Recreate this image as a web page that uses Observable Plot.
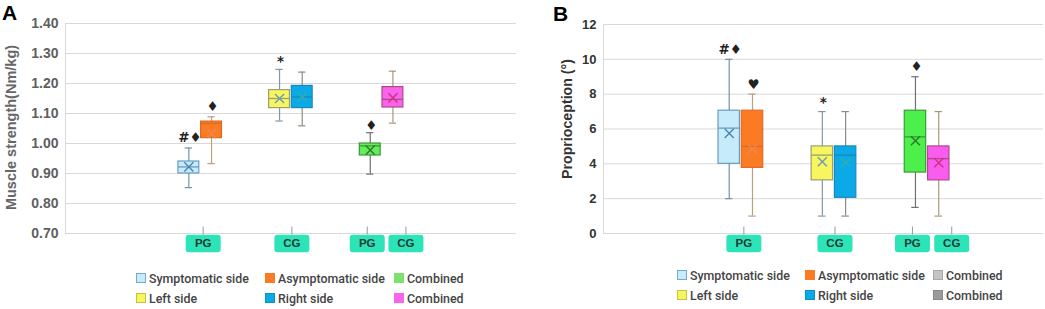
<!DOCTYPE html>
<html>
<head>
<meta charset="utf-8">
<script src="https://cdn.jsdelivr.net/npm/d3@7"></script>
<script src="https://cdn.jsdelivr.net/npm/@observablehq/plot@0.6"></script>
<style>
  body { margin: 0; background: #fff; width: 1045px; height: 309px; overflow: hidden; position: relative; font-family: "Liberation Sans", Arial, sans-serif; }
  .panel { position: absolute; top: 0; }
  .letter { position: absolute; font: bold 21px "Liberation Sans", Arial, sans-serif; color: #000; line-height: 1; }
  .legend { position: absolute; font: 500 12.4px Roboto, "Noto Sans", sans-serif; color: #444; }
  .item { position: absolute; display: flex; align-items: center; white-space: nowrap; height: 14px; }
  .sw { width: 8px; height: 8px; border: 1px solid; margin-right: 3px; }
</style>
</head>
<body>
<div id="panelA" class="panel" style="left:0px"></div>
<div id="panelB" class="panel" style="left:520px"></div>
<div class="letter" style="left:2px;top:2px">A</div>
<div class="letter" style="left:553px;top:3px">B</div>
<div id="legendA" class="legend" style="left:136px;top:271px"></div>
<div id="legendB" class="legend" style="left:677px;top:268px"></div>
<script>
// ---- categories (box order) and grouping ----
const boxKeys = ["Symptomatic side", "Asymptomatic side", "Left side", "Right side", "Combined PG", "Combined CG"];
const boxGroups = [["Symptomatic side", "Asymptomatic side"], ["Left side", "Right side"], ["Combined PG"], ["Combined CG"]];
const groupLabels = ["PG", "CG", "PG", "CG"];

// ---- Panel A: muscle strength (Nm/kg) ----
const strengthMin    = [0.853, 0.933, 1.075, 1.059, 0.898, 1.068];
const strengthQ1     = [0.900, 1.018, 1.118, 1.118, 0.960, 1.120];
const strengthMedian = [0.922, 1.067, 1.150, 1.155, 0.992, 1.147];
const strengthQ3     = [0.940, 1.073, 1.178, 1.192, 1.000, 1.188];
const strengthMax    = [0.985, 1.089, 1.247, 1.238, 1.036, 1.241];
const strengthMean   = [0.922, 1.033, 1.150, 1.155, 0.978, 1.152];
const strengthNotes  = ["#♦", "♦", "*", "", "♦", ""];
const strengthNoteAt = [1.020, 1.122, 1.272, null, 1.059, null];
const strengthTicks  = [0.70, 0.80, 0.90, 1.00, 1.10, 1.20, 1.30, 1.40];

// ---- Panel B: proprioception (°) ----
const proMin    = [2, 1, 1, 1, 1.5, 1];
const proQ1     = [4, 3.77, 3.05, 2.05, 3.5, 3.05];
const proMedian = [6.05, 5.0, 4.5, 4.5, 5.55, 4.3];
const proQ3     = [7.05, 7.05, 5.0, 5.0, 7.05, 5.0];
const proMax    = [10, 8, 7, 7, 9, 7];
const proMean   = [5.75, 4.87, 4.12, 4.08, 5.33, 4.06];
const proNotes  = ["#♦", "♥", "*", "", "♦", ""];
const proNoteAt = [10.55, 8.55, 7.5, null, 9.58, null];
const proTicks  = [0, 2, 4, 6, 8, 10, 12];

// ---- legends ----
const legendLabelsA = ["Symptomatic side", "Asymptomatic side", "Combined", "Left side", "Right side", "Combined"];
const legendLabelsB = ["Symptomatic side", "Asymptomatic side", "Combined", "Left side", "Right side", "Combined"];

// ---- styles ----
const fillA   = ["#c6ecfb", "#fa7b24", "#f8f65e", "#0ba9e8", "#66ec5a", "#f865ec"];
const fillB   = ["#c6ecfb", "#fa7b24", "#f8f65e", "#0ba9e8", "#4df04b", "#fa5cf0"];
const strokes = ["#6a9cc0", "#dc6a24", "#9aa070", "#1a88bb", "#3a9a3a", "#b04888"];
const whisk   = ["#7094ab", "#b8a080", "#7f98a8", "#8c8c80", "#707070", "#a89878"];
const meanCol = ["#4c84b0", "#e88a50", "#6a9ab8", "#30b0a8", "#2a7a2a", "#d03080"];
const legendFillA   = ["#c6ecfb", "#fa7b24", "#7ee070", "#f8f65e", "#0ba9e8", "#f865ec"];
const legendStrokeA = ["#7aa8c8", "#fa7b24", "#7ee070", "#c8c040", "#0a90cc", "#f865ec"];
const legendFillB   = ["#c6ecfb", "#fa7b24", "#c4c4c4", "#f8f65e", "#0ba9e8", "#9a9a9a"];
const legendStrokeB = ["#7aa8c8", "#fa7b24", "#a8a8a8", "#c8c040", "#0a90cc", "#888888"];
const labelNudge = [3, 1, -3, 13]; // pixel nudges of the category labels

// slot index: two empty slots between groups of pairs
const slotOf = {};
{
  let s = 0;
  [["Symptomatic side", "Asymptomatic side"], ["Left side", "Right side"], ["Combined PG", "Combined CG"]].forEach((g, gi) => {
    if (gi > 0) s += 2;
    g.forEach(k => { slotOf[k] = s++; });
  });
}
const groupRows = boxGroups.map((g, i) => ({label: groupLabels[i], center: d3.mean(g, k => slotOf[k]), nudge: labelNudge[i]}));

const labelBox = {
  draw(ctx) {
    const w = 17.5, h = 8.8, r = 3;
    ctx.moveTo(-w + r, -h);
    ctx.lineTo(w - r, -h); ctx.arcTo(w, -h, w, -h + r, r);
    ctx.lineTo(w, h - r); ctx.arcTo(w, h, w - r, h, r);
    ctx.lineTo(-w + r, h); ctx.arcTo(-w, h, -w, h - r, r);
    ctx.lineTo(-w, -h + r); ctx.arcTo(-w, -h, -w + r, -h, r);
    ctx.closePath();
  }
};
const tickSym = { draw(ctx) { ctx.moveTo(0, -7); ctx.lineTo(0, 1); } };

function makePanel(o) {
  const rows = boxKeys.map((k, i) => ({
    key: k, slot: slotOf[k],
    min: o.min[i], q1: o.q1[i], med: o.med[i], q3: o.q3[i], max: o.max[i], mean: o.mean[i],
    note: o.notes[i], noteAt: o.noteAt[i],
    fill: o.fill[i], stroke: strokes[i], whisk: whisk[i], meanCol: meanCol[i]
  }));
  const notes = rows.filter(d => d.note);
  const hw = 0.46, cw = 0.16;
  const labelMarks = groupRows.flatMap(g => [
    Plot.dot([g], {x: "center", frameAnchor: "bottom", dx: g.nudge, symbol: tickSym, fill: "none", stroke: "#9a9a9a", strokeWidth: 1}),
    Plot.dot([g], {x: "center", frameAnchor: "bottom", dx: g.nudge, dy: 10, symbol: labelBox, fill: "#2de4b8", stroke: "none"}),
    Plot.text([g], {x: "center", frameAnchor: "bottom", dx: g.nudge, dy: 10, text: "label", fontSize: 11.5, fontWeight: "bold", fill: "#1d3b33", lineAnchor: "middle"})
  ]);
  return Plot.plot({
    width: o.width, height: 258,
    marginLeft: o.marginLeft, marginRight: o.marginRight, marginTop: o.marginTop, marginBottom: 25,
    x: {domain: o.xDomain, axis: null},
    y: {domain: o.yDomain},
    color: {type: "identity"},
    style: {fontFamily: "'Liberation Sans', Arial, sans-serif", background: "transparent", overflow: "visible"},
    marks: [
      Plot.ruleY(o.ticks, {stroke: "#d9d9d9", strokeWidth: 1}),
      Plot.frame({anchor: "left", stroke: "#d9d9d9"}),
      Plot.axisY({ticks: o.ticks, tickSize: 0, tickPadding: 7, tickFormat: o.tickFormat, fontSize: o.tickFont, fontWeight: "bold", fill: o.tickColor, label: null}),
      Plot.text([o.title], {frameAnchor: "left", rotate: -90, dx: o.titleDx, dy: o.titleDy, text: d => d, fontSize: o.titleFont, fontWeight: "bold", fill: o.titleColor, textAnchor: "middle", lineAnchor: "middle"}),
      // whiskers
      Plot.ruleX(rows, {x: "slot", y1: "min", y2: "q1", stroke: "whisk", strokeWidth: 1.2}),
      Plot.ruleX(rows, {x: "slot", y1: "q3", y2: "max", stroke: "whisk", strokeWidth: 1.2}),
      Plot.ruleY(rows, {y: "min", x1: d => d.slot - cw, x2: d => d.slot + cw, stroke: "whisk", strokeWidth: 1.2}),
      Plot.ruleY(rows, {y: "max", x1: d => d.slot - cw, x2: d => d.slot + cw, stroke: "whisk", strokeWidth: 1.2}),
      // boxes
      Plot.rect(rows, {x1: d => d.slot - hw, x2: d => d.slot + hw, y1: "q1", y2: "q3", fill: "fill", stroke: "stroke", strokeWidth: 1.2}),
      Plot.ruleY(rows, {y: "med", x1: d => d.slot - hw, x2: d => d.slot + hw, stroke: "stroke", strokeWidth: 1.3}),
      Plot.dot(rows, {x: "slot", y: "mean", symbol: "times", r: 4.2, stroke: "meanCol", strokeWidth: 1.4}),
      // significance marks
      Plot.text(notes, {x: "slot", y: "noteAt", text: "note", fontSize: 13.5, fontWeight: "bold", fill: "#222", fontFamily: "'DejaVu Sans', sans-serif", dx: 1}),
      // category axis ticks and labels
      ...labelMarks
    ]
  });
}

document.getElementById("panelA").append(makePanel({
  width: 520, marginLeft: 65, marginRight: 4, marginTop: 23,
  xDomain: [-5.44, 14.45], yDomain: [0.70, 1.40], ticks: strengthTicks, tickFormat: d3.format(".2f"),
  tickFont: 14, tickColor: "#5f5f5f",
  title: "Muscle strength(Nm/kg)", titleDx: -54, titleDy: -1, titleFont: 14.5, titleColor: "#666",
  min: strengthMin, q1: strengthQ1, med: strengthMedian, q3: strengthQ3, max: strengthMax, mean: strengthMean,
  notes: strengthNotes, noteAt: strengthNoteAt, fill: fillA
}));

document.getElementById("panelB").append(makePanel({
  width: 525, marginLeft: 83, marginRight: 2, marginTop: 24,
  xDomain: [-5.40, 13.50], yDomain: [0, 12], ticks: proTicks, tickFormat: d3.format("d"),
  tickFont: 13, tickColor: "#333",
  title: "Proprioception (°)", titleDx: -36, titleDy: -10, titleFont: 14.2, titleColor: "#333",
  min: proMin, q1: proQ1, med: proMedian, q3: proQ3, max: proMax, mean: proMean,
  notes: proNotes, noteAt: proNoteAt, fill: fillB
}));

function makeLegend(el, labels, fills, strokesL, colStep) {
  labels.forEach((lab, i) => {
    const col = i % 3, row = Math.floor(i / 3);
    const it = document.createElement("div");
    it.className = "item";
    it.style.left = (col * colStep) + "px";
    it.style.top = (row * 20) + "px";
    const sw = document.createElement("span");
    sw.className = "sw";
    sw.style.background = fills[i];
    sw.style.borderColor = strokesL[i];
    const tx = document.createElement("span");
    tx.textContent = lab;
    it.append(sw, tx);
    el.append(it);
  });
}
makeLegend(document.getElementById("legendA"), legendLabelsA, legendFillA, legendStrokeA, 129);
makeLegend(document.getElementById("legendB"), legendLabelsB, legendFillB, legendStrokeB, 128);
</script>
</body>
</html>
